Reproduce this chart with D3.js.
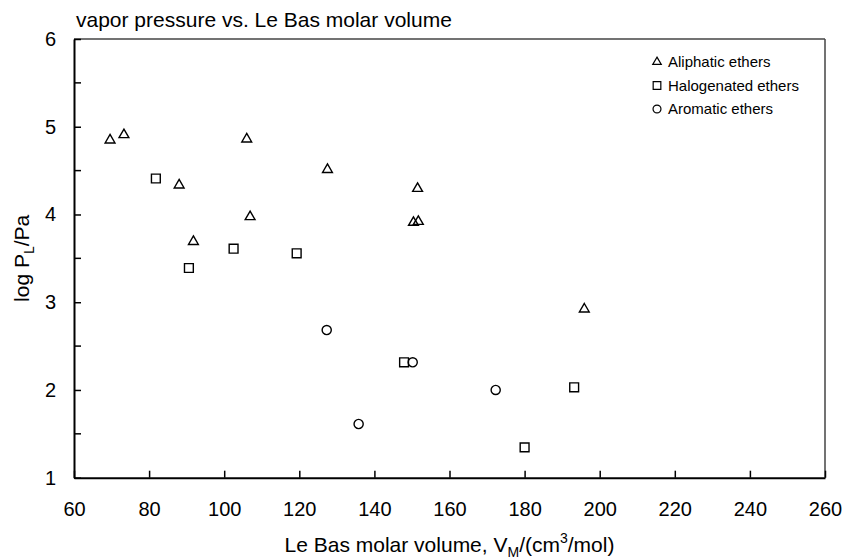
<!DOCTYPE html>
<html>
<head>
<meta charset="utf-8">
<script src="https://cdn.jsdelivr.net/npm/d3@7"></script>
<style>
  html, body { margin: 0; padding: 0; background: #fff; }
  svg { display: block; font-family: "Liberation Sans", Arial, sans-serif; }
</style>
</head>
<body>
<svg id="chart" width="848" height="559"></svg>
<script>
// ---- data ----
const aliphaticX = [69.6, 73.3, 88.0, 91.8, 106.0, 106.9, 127.5, 150.4, 151.5, 151.7, 195.9];
const aliphaticY = [4.857, 4.917, 4.344, 3.70, 4.868, 3.983, 4.52, 3.918, 4.305, 3.929, 2.93];
const halogenX = [81.8, 90.6, 102.5, 119.3, 147.9, 180.0, 193.2];
const halogenY = [4.41, 3.39, 3.61, 3.558, 2.315, 1.346, 2.03];
const aromaticX = [127.3, 135.8, 150.2, 172.3];
const aromaticY = [2.683, 1.612, 2.315, 2.00];
const seriesNames = ["Aliphatic ethers", "Halogenated ethers", "Aromatic ethers"];
const xTicks = [60, 80, 100, 120, 140, 160, 180, 200, 220, 240, 260];
const yTicks = [1, 2, 3, 4, 5, 6];
const yMinorTicks = [1.5, 2.5, 3.5, 4.5, 5.5];

const svg = d3.select("#chart");
const m = { left: 74, right: 825, top: 39, bottom: 477.7 };
const x = d3.scaleLinear().domain([60, 260]).range([m.left, m.right]);
const y = d3.scaleLinear().domain([1, 6]).range([m.bottom, m.top]);

// frame (top/right)
svg.append("line").attr("x1", m.left).attr("x2", m.right).attr("y1", m.top).attr("y2", m.top)
  .attr("stroke", "#444").attr("stroke-width", 1.5);
svg.append("line").attr("x1", m.right).attr("x2", m.right).attr("y1", m.top).attr("y2", m.bottom)
  .attr("stroke", "#444").attr("stroke-width", 1.5);

// axes
const xAxis = d3.axisBottom(x).tickValues(xTicks).tickSize(0).tickPadding(24).tickFormat(d3.format("d"));
const gx = svg.append("g").attr("transform", `translate(0,${m.bottom})`).call(xAxis);
gx.select(".domain").attr("stroke", "#000").attr("stroke-width", 2);
gx.selectAll(".tick text").attr("font-size", 20).attr("fill", "#000").attr("font-family", "Liberation Sans, Arial, sans-serif");
gx.selectAll(".tick").append("line").attr("y1", 0).attr("y2", -7).attr("stroke", "#000").attr("stroke-width", 1.5);

const yAxis = d3.axisLeft(y).tickValues(yTicks).tickSize(0).tickPadding(18).tickFormat(d3.format("d"));
const gy = svg.append("g").attr("transform", `translate(${m.left},0)`).call(yAxis);
gy.select(".domain").attr("stroke", "#000").attr("stroke-width", 2);
gy.selectAll(".tick text").attr("font-size", 20).attr("fill", "#000").attr("font-family", "Liberation Sans, Arial, sans-serif");
gy.selectAll(".tick").append("line").attr("x1", 0).attr("x2", 7).attr("stroke", "#000").attr("stroke-width", 1.5);
svg.append("g").selectAll("line").data(yMinorTicks).join("line")
  .attr("x1", m.left).attr("x2", m.left + 7).attr("y1", d => y(d)).attr("y2", d => y(d))
  .attr("stroke", "#000").attr("stroke-width", 1.5);

// title
svg.append("text").attr("x", 76).attr("y", 27).attr("font-size", 21).attr("fill", "#000")
  .text("vapor pressure vs. Le Bas molar volume");

// axis titles
const yl = svg.append("text").attr("transform", `translate(29,${(m.top + m.bottom) / 2}) rotate(-90)`)
  .attr("text-anchor", "middle").attr("font-size", 21).attr("fill", "#000");
yl.append("tspan").text("log P");
yl.append("tspan").attr("font-size", 14).attr("dy", 5).text("L");
yl.append("tspan").attr("dy", -5).text("/Pa");

const xl = svg.append("text").attr("x", (m.left + m.right) / 2).attr("y", 552)
  .attr("text-anchor", "middle").attr("font-size", 21).attr("fill", "#000");
xl.append("tspan").text("Le Bas molar volume, V");
xl.append("tspan").attr("font-size", 14).attr("dy", 5).text("M");
xl.append("tspan").attr("dy", -5).text("/(cm");
xl.append("tspan").attr("font-size", 14).attr("dy", -9).text("3");
xl.append("tspan").attr("dy", 9).text("/mol)");

// markers
const sym = [d3.symbolTriangle, d3.symbolSquare, d3.symbolCircle];
const symSize = [42, 78, 66];
const series = [
  d3.zip(aliphaticX, aliphaticY),
  d3.zip(halogenX, halogenY),
  d3.zip(aromaticX, aromaticY)
];
series.forEach((pts, i) => {
  svg.append("g").selectAll("path").data(pts).join("path")
    .attr("d", d3.symbol().type(sym[i]).size(symSize[i]))
    .attr("transform", d => `translate(${x(d[0])},${y(d[1]) + (i === 0 ? 0.8 : 0)})`)
    .attr("fill", "none").attr("stroke", "#000").attr("stroke-width", 1.4);
});

// legend
const legY = [67, 90.5, 114];
const lg = svg.append("g");
seriesNames.forEach((name, i) => {
  lg.append("path").attr("d", d3.symbol().type(sym[i]).size(symSize[i] * 0.75))
    .attr("transform", `translate(657,${legY[i] - 5})`)
    .attr("fill", "none").attr("stroke", "#000").attr("stroke-width", 1.2);
  lg.append("text").attr("x", 668).attr("y", legY[i]).attr("font-size", 15).attr("fill", "#000").text(name);
});
</script>
</body>
</html>
